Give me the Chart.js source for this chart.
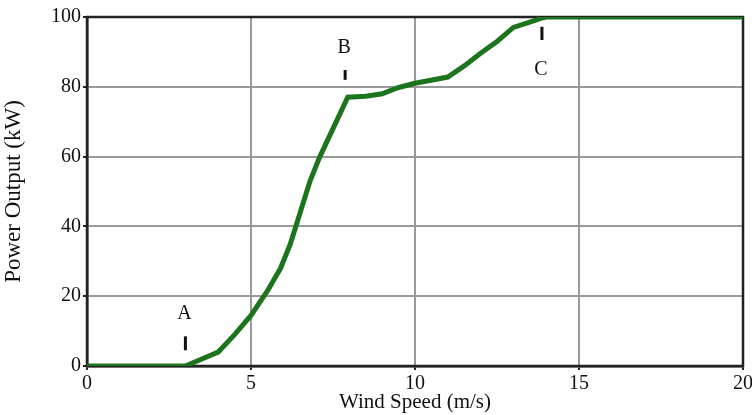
<!DOCTYPE html>
<html>
<head>
<meta charset="utf-8">
<script src="https://cdn.jsdelivr.net/npm/chart.js@4/dist/chart.umd.min.js"></script>
<style>
  html, body { margin: 0; padding: 0; background: #fff; }
  #wrap { width: 752px; height: 415px; }
</style>
</head>
<body>
<div id="wrap"><canvas id="curve"></canvas></div>
<script>
// wind speed (m/s) and power (kW)
var windSpeed = [0, 3, 3.5, 4, 4.5, 5, 5.5, 5.9, 6.2, 6.5, 6.8, 7.1, 7.5, 7.95, 8.5, 9, 9.5, 10, 11, 11.5, 12, 12.5, 13, 13.5, 13.9, 14, 20];
var powerOut  = [0, 0, 2, 4, 9, 14.5, 21.5, 28, 35, 44, 53, 60, 68, 77, 77.3, 78, 79.8, 81, 82.8, 86, 89.6, 93, 97, 98.5, 99.8, 100, 100];

// point markers A, B, C
var markNames = ["A", "B", "C"];
var markX     = [3, 7.87, 13.87];
var markTxtY  = [15, 91.2, 85];
var markLo    = [4.5, 82, 93.4];
var markHi    = [8.5, 84.8, 97.2];

var serif = "'Liberation Serif', 'Times New Roman', serif";

var pts = windSpeed.map(function (w, i) { return { x: w, y: powerOut[i] }; });

// black frame round the plot
var framePlugin = {
    id: "frame",
    beforeDatasetsDraw: function (chart) {
        var a = chart.chartArea, c = chart.ctx;
        c.save();
        c.strokeStyle = "#222";
        c.lineWidth = 2.5;
        c.strokeRect(a.left, a.top, a.right - a.left, a.bottom - a.top);
        c.restore();
    }
};

var markPlugin = {
    id: "marks",
    afterDatasetsDraw: function (chart) {
        var xs = chart.scales.x, ys = chart.scales.y, c = chart.ctx;
        c.save();
        c.fillStyle = "#111";
        c.strokeStyle = "#111";
        c.lineWidth = 3;
        c.font = "20px " + serif;
        c.textAlign = "center";
        c.textBaseline = "middle";
        markNames.forEach(function (n, i) {
            var px = xs.getPixelForValue(markX[i]);
            c.beginPath();
            c.moveTo(px, ys.getPixelForValue(markLo[i]));
            c.lineTo(px, ys.getPixelForValue(markHi[i]));
            c.stroke();
            c.fillText(n, px - 1, ys.getPixelForValue(markTxtY[i]));
        });
        c.restore();
    }
};

new Chart(document.getElementById("curve").getContext("2d"), {
    type: "line",
    data: {
        datasets: [{
            data: pts,
            borderColor: "#1c741c",
            borderWidth: 5,
            pointRadius: 0,
            tension: 0,
            fill: false
        }]
    },
    options: {
        responsive: true,
        maintainAspectRatio: false,
        animation: false,
        layout: { padding: { left: 0, top: 17, right: 9, bottom: 0 } },
        plugins: { legend: { display: false }, tooltip: { enabled: false } },
        scales: {
            x: {
                type: "linear",
                min: 0, max: 20,
                ticks: { stepSize: 5, color: "#111", font: { family: serif, size: 20 }, padding: 2 },
                grid: { color: "#999", lineWidth: 2, tickLength: 4, tickColor: "#222" },
                border: { color: "#222", width: 2.5 },
                title: { display: true, text: "Wind Speed (m/s)", color: "#111",
                         font: { family: serif, size: 21 }, padding: { top: 0, bottom: 0 } },
                afterFit: function (s) { s.height = 49; s.paddingRight = 0; s.paddingLeft = 0; }
            },
            y: {
                min: 0, max: 100,
                ticks: { stepSize: 20, color: "#111", font: { family: serif, size: 20 }, padding: 2 },
                grid: { color: "#999", lineWidth: 2, tickLength: 4, tickColor: "#222" },
                border: { color: "#222", width: 2.5 },
                title: { display: true, text: "Power Output (kW)", color: "#111",
                         font: { family: serif, size: 23 }, padding: { top: 0, bottom: 4 } },
                afterFit: function (s) { s.width = 87; }
            }
        }
    },
    plugins: [framePlugin, markPlugin]
});
</script>
</body>
</html>
